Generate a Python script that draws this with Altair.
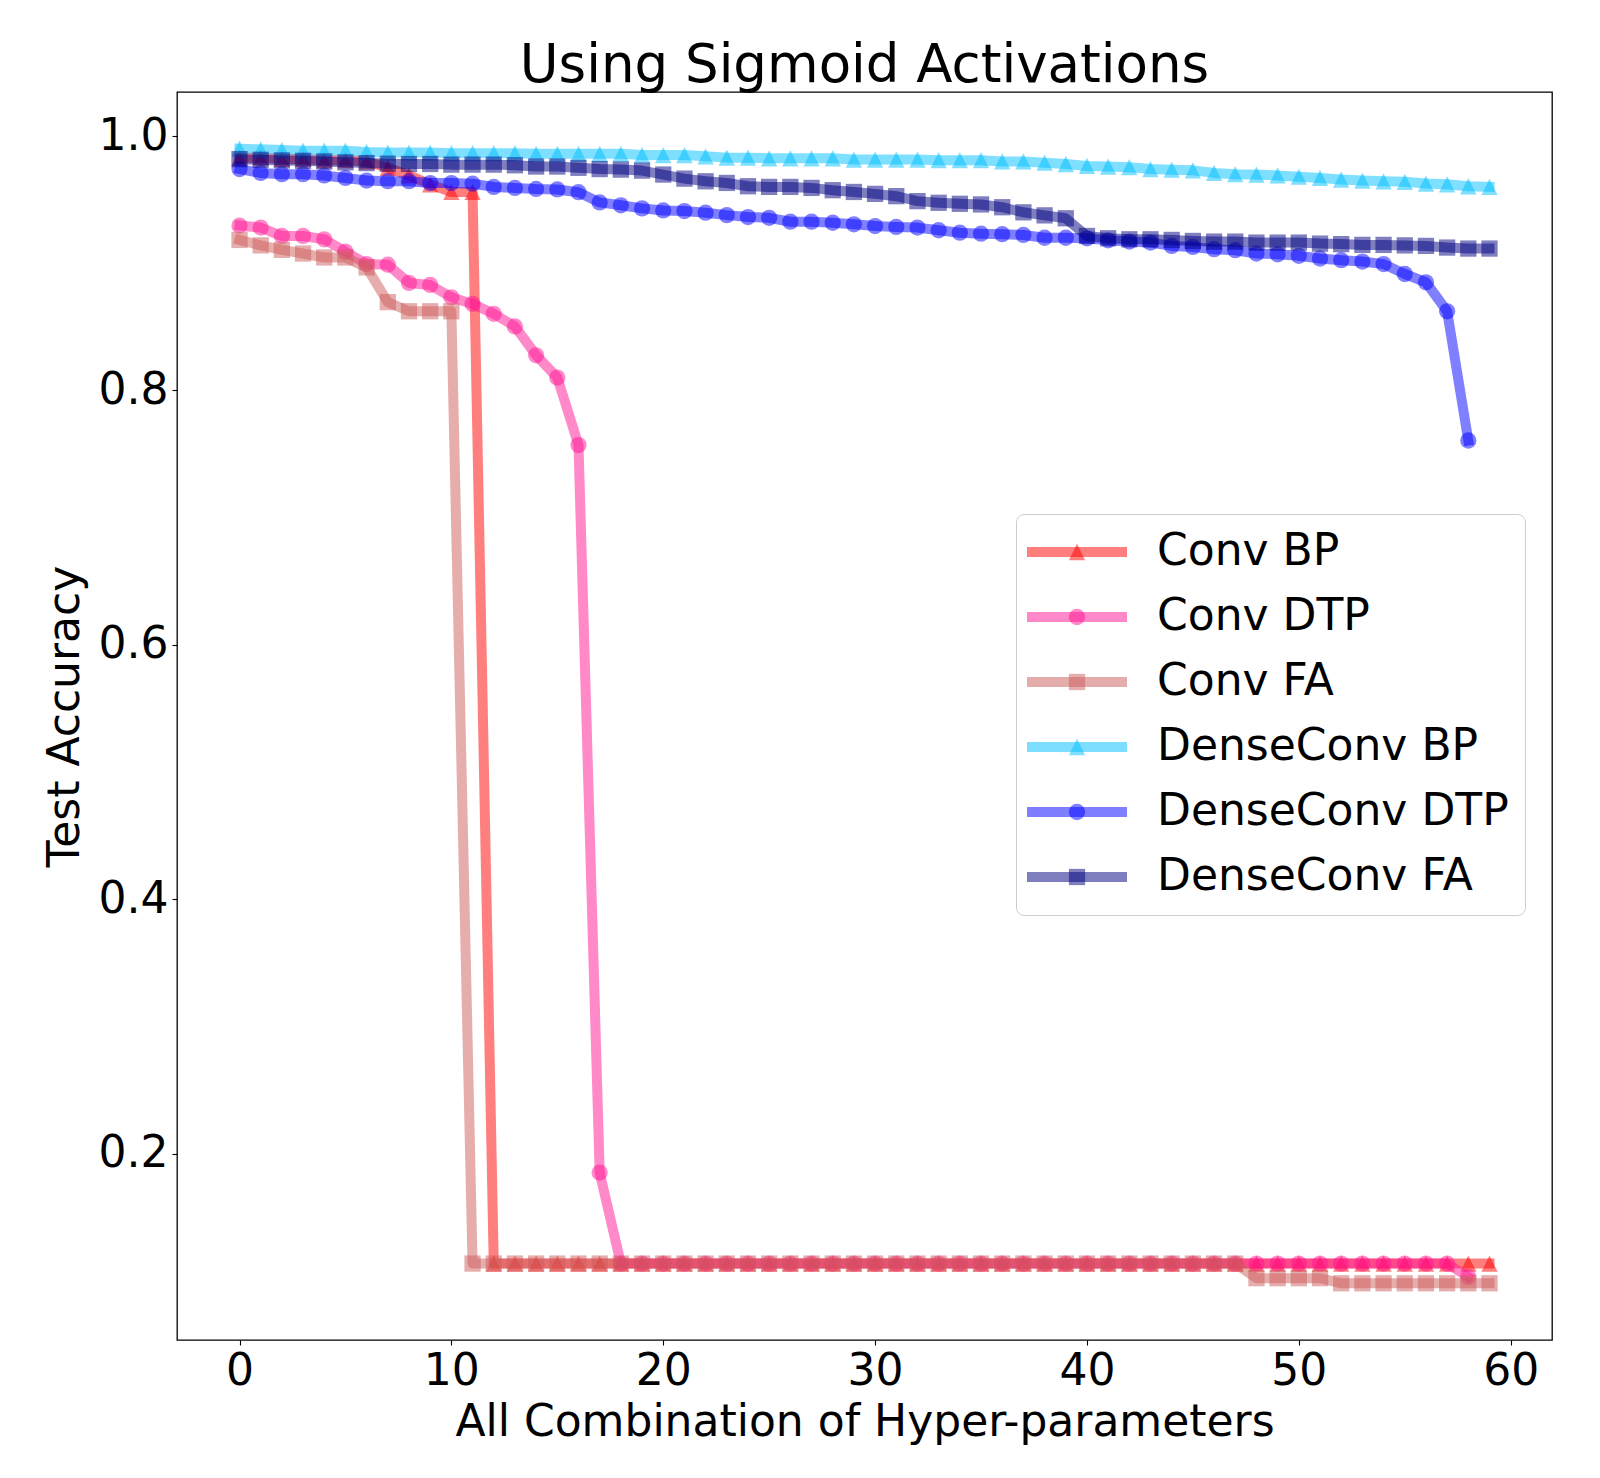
import altair as alt
import pandas as pd

# ---------------- data ----------------
series_names = ["Conv BP", "Conv DTP", "Conv FA", "DenseConv BP", "DenseConv DTP", "DenseConv FA"]
series_colors = ["#ff0000", "#ff1493", "#cd5c5c", "#00bfff", "#0000ff", "#000080"]
TRIANGLE = "M0,-1L1,1L-1,1Z"
series_shapes = [TRIANGLE, "circle", "square", TRIANGLE, "circle", "square"]

x_ticks = [0, 10, 20, 30, 40, 50, 60]
y_ticks = [0.2, 0.4, 0.6, 0.8, 1.0]

conv_bp = [0.983, 0.983, 0.982, 0.982, 0.981, 0.981, 0.980, 0.975, 0.969, 0.962,
           0.956, 0.956, 0.1135, 0.1135, 0.1135, 0.1135, 0.1135, 0.1135, 0.1135, 0.1135,
           0.1135, 0.1135, 0.1135, 0.1135, 0.1135, 0.1135, 0.1135, 0.1135, 0.1135, 0.1135,
           0.1135, 0.1135, 0.1135, 0.1135, 0.1135, 0.1135, 0.1135, 0.1135, 0.1135, 0.1135,
           0.1135, 0.1135, 0.1135, 0.1135, 0.1135, 0.1135, 0.1135, 0.1135, 0.1135, 0.1135,
           0.1135, 0.1135, 0.1135, 0.1135, 0.1135, 0.1135, 0.1135, 0.1135, 0.1135, 0.1135]

conv_dtp = [0.9296, 0.928, 0.9214, 0.9214, 0.9188, 0.9091, 0.8993, 0.8988, 0.8845, 0.8829,
            0.8732, 0.868, 0.8602, 0.8503, 0.8276, 0.8101, 0.757, 0.185, 0.1135, 0.1135,
            0.1135, 0.1135, 0.1135, 0.1135, 0.1135, 0.1135, 0.1135, 0.1135, 0.1135, 0.1135,
            0.1135, 0.1135, 0.1135, 0.1135, 0.1135, 0.1135, 0.1135, 0.1135, 0.1135, 0.1135,
            0.1135, 0.1135, 0.1135, 0.1135, 0.1135, 0.1135, 0.1135, 0.1135, 0.1135, 0.1135,
            0.1135, 0.1135, 0.1135, 0.1135, 0.1135, 0.1135, 0.1135, 0.1135, 0.103]

conv_fa = [0.9183, 0.914, 0.9105, 0.9076, 0.9045, 0.9045, 0.8967, 0.8694, 0.8622, 0.8622,
           0.8622, 0.1135, 0.1135, 0.1135, 0.1135, 0.1135, 0.1135, 0.1135, 0.1135, 0.1135,
           0.1135, 0.1135, 0.1135, 0.1135, 0.1135, 0.1135, 0.1135, 0.1135, 0.1135, 0.1135,
           0.1135, 0.1135, 0.1135, 0.1135, 0.1135, 0.1135, 0.1135, 0.1135, 0.1135, 0.1135,
           0.1135, 0.1135, 0.1135, 0.1135, 0.1135, 0.1135, 0.1135, 0.1135, 0.102, 0.102,
           0.102, 0.102, 0.098, 0.098, 0.098, 0.098, 0.098, 0.098, 0.098, 0.098]

dense_bp = [0.990, 0.9895, 0.989, 0.9885, 0.9885, 0.9885, 0.9875, 0.987, 0.987, 0.987,
            0.9865, 0.9865, 0.9865, 0.9865, 0.986, 0.986, 0.986, 0.986, 0.986, 0.985,
            0.985, 0.985, 0.984, 0.983, 0.983, 0.9825, 0.9825, 0.9825, 0.9825, 0.9815,
            0.9815, 0.9815, 0.9815, 0.981, 0.981, 0.981, 0.980, 0.980, 0.979, 0.978,
            0.9765, 0.976, 0.9755, 0.974, 0.9735, 0.973, 0.971, 0.970, 0.9697, 0.969,
            0.968, 0.967, 0.9658, 0.965, 0.9644, 0.964, 0.9626, 0.962, 0.9605, 0.960]

dense_dtp = [0.974, 0.971, 0.970, 0.970, 0.969, 0.967, 0.965, 0.9645, 0.9645, 0.963,
             0.963, 0.9625, 0.960, 0.9592, 0.9584, 0.958, 0.9558, 0.9478, 0.9455, 0.9431,
             0.9415, 0.941, 0.9397, 0.9378, 0.9363, 0.9357, 0.9326, 0.9326, 0.9318, 0.9306,
             0.9292, 0.9285, 0.928, 0.9259, 0.924, 0.9232, 0.9228, 0.9222, 0.920, 0.920,
             0.9196, 0.918, 0.917, 0.9162, 0.9136, 0.9128, 0.911, 0.9102, 0.9076, 0.907,
             0.9058, 0.9037, 0.9024, 0.9013, 0.8993, 0.8915, 0.885, 0.8622, 0.7606]

dense_fa = [0.9818, 0.9813, 0.9808, 0.9805, 0.980, 0.9793, 0.9787, 0.9782, 0.978, 0.978,
            0.9775, 0.9775, 0.9775, 0.977, 0.976, 0.976, 0.975, 0.974, 0.9736, 0.9728,
            0.9697, 0.9665, 0.9644, 0.9631, 0.9605, 0.960, 0.960, 0.9592, 0.9574, 0.956,
            0.9545, 0.9527, 0.9488, 0.9475, 0.9467, 0.9462, 0.944, 0.940, 0.9376, 0.9353,
            0.9214, 0.9196, 0.9188, 0.9188, 0.9183, 0.9175, 0.917, 0.917, 0.9162, 0.9162,
            0.9162, 0.9154, 0.915, 0.9144, 0.9144, 0.914, 0.9136, 0.9123, 0.9115, 0.9115]

all_series = [conv_bp, conv_dtp, conv_fa, dense_bp, dense_dtp, dense_fa]

rows = []
for name, vals in zip(series_names, all_series):
    for i, v in enumerate(vals):
        rows.append({"x": i, "acc": v, "series": name, "marker": "m " + name})
df = pd.DataFrame(rows)

FONT = "DejaVu Sans"
PLOT_W, PLOT_H = 1375, 1248
MARKER_SIZE = 265

stroke_scale = alt.Scale(domain=series_names, range=series_colors)
marker_domain = ["m " + n for n in series_names]
fill_scale = alt.Scale(domain=marker_domain, range=series_colors)
shape_scale = alt.Scale(domain=marker_domain, range=series_shapes)

legend_common = dict(
    title=None, orient="none", legendX=839, legendY=422,
    symbolOffset=23, labelOffset=58, labelFont=FONT, labelFontSize=44,
    labelLimit=800, padding=16, rowPadding=21,
)
legend_lines = alt.Legend(
    symbolType="M-5,0H5", symbolSize=400, symbolStrokeWidth=10, symbolOpacity=0.5,
    labelColor="black", fillColor="rgba(255,255,255,0.8)", strokeColor="#cccccc",
    cornerRadius=8, **legend_common,
)
legend_marks = alt.Legend(
    symbolSize=MARKER_SIZE, symbolStrokeWidth=0, symbolOpacity=0.5, labelExpr="''",
    **legend_common,
)

X = alt.X(
    "x:Q",
    scale=alt.Scale(domain=[-2.95, 61.95], nice=False, zero=False),
    axis=alt.Axis(values=x_ticks, title="All Combination of Hyper-parameters",
                  titleX=PLOT_W / 2, titleY=95, titleBaseline="alphabetic", titleAlign="center"),
)
Y = alt.Y(
    "acc:Q",
    scale=alt.Scale(domain=[0.0534, 1.0346], nice=False, zero=False),
    axis=alt.Axis(values=y_ticks, format=".1f", title="Test Accuracy",
                  titleX=-99, titleY=PLOT_H / 2, titleAngle=270,
                  titleBaseline="alphabetic", titleAlign="center"),
)

layers = []
for name in series_names:
    base = alt.Chart().transform_filter(alt.datum.series == name)
    line = base.mark_line(strokeWidth=10, opacity=0.5, strokeJoin="round", strokeCap="square").encode(
        x=X, y=Y, stroke=alt.Stroke("series:N", scale=stroke_scale, legend=legend_lines)
    )
    pts = base.mark_point(filled=True, size=MARKER_SIZE, opacity=0.5, strokeWidth=0).encode(
        x=X, y=Y,
        fill=alt.Fill("marker:N", scale=fill_scale, legend=legend_marks),
        shape=alt.Shape("marker:N", scale=shape_scale, legend=legend_marks),
    )
    layers += [line, pts]

chart = alt.layer(*layers, data=df).properties(
    width=PLOT_W,
    height=PLOT_H,
    padding={"left": 169, "top": 84, "right": 40, "bottom": 130},
    autosize=alt.AutoSizeParams(type="none"),
    title=alt.TitleParams(
        "Using Sigmoid Activations", fontSize=53, font=FONT, fontWeight="normal",
        color="black", anchor="middle", frame="group", offset=10, baseline="alphabetic",
        dy=53,
    ),
    background="white",
).configure_view(
    stroke="black", strokeWidth=1.3
).configure_axis(
    grid=False, domain=False, labelFont=FONT, labelFontSize=44, labelColor="black",
    titleFont=FONT, titleFontSize=44, titleFontWeight="normal", titleColor="black",
    tickColor="black", tickSize=5, tickWidth=1.1, labelPadding=4,
)

chart.save("out.html", embed_options={"renderer": "svg", "actions": False})
